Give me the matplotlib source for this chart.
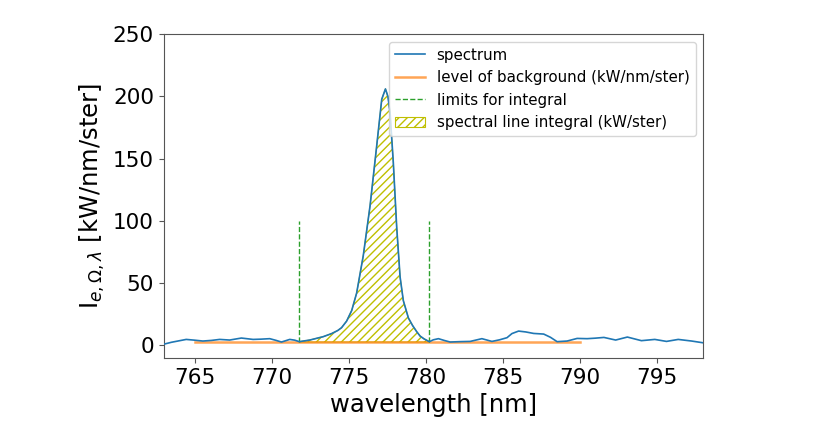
import numpy as np
import matplotlib
matplotlib.use('Agg')
import matplotlib.pyplot as plt

# spectrum (nm, kW/nm/ster)
wavelength = [762.7, 763.5, 764.46, 765.0, 765.54, 766.1, 766.63, 767.28, 768.04,
              768.8, 769.3, 769.88, 770.3, 770.64, 771.18, 771.5, 771.8, 772.48,
              773.35, 773.9, 774.3, 774.54, 774.87, 775.2, 775.52, 775.95, 776.39,
              776.82, 777.15, 777.39, 777.55, 777.69, 777.9, 778.12, 778.34, 778.55,
              778.88, 779.15, 779.42, 779.64, 779.9, 780.24, 780.5, 780.83, 781.2,
              781.59, 782.2, 782.89, 783.65, 784.3, 784.8, 785.28, 785.6, 786.03,
              786.5, 787.01, 787.66, 788.1, 788.53, 789.18, 789.83, 790.48, 791.0,
              791.57, 792.33, 793.09, 794.0, 794.87, 795.63, 796.39, 797.26, 798.0,
              798.5]
intensity = [0.0, 2.5, 4.8, 4.2, 3.5, 4.0, 4.8, 4.3, 5.9,
             4.8, 5.0, 5.4, 4.0, 2.7, 4.8, 4.2, 3.0, 4.3,
             7.0, 9.5, 12.0, 14.2, 19.5, 28.0, 42.0, 72.0, 112.0,
             160.0, 197.7, 206.0, 200.0, 187.0, 147.0, 95.0, 55.0, 36.0,
             22.0, 16.0, 11.0, 7.5, 5.2, 3.0, 4.5, 5.4, 4.0,
             2.7, 3.0, 3.2, 5.4, 3.2, 4.5, 6.2, 9.5, 11.5,
             10.8, 9.6, 9.1, 6.5, 3.0, 3.5, 5.6, 5.4, 5.8,
             6.4, 4.3, 6.7, 3.8, 4.8, 3.2, 4.8, 3.5, 2.1,
             1.5]

background_range = [765.0, 790.0]
background_level = 2.7
integral_limits = [771.8, 780.24]
limit_height = 100.0

wl = np.array(wavelength)
spec = np.array(intensity)

fig = plt.figure(figsize=(8.31, 4.38), dpi=100)
ax = fig.add_axes([0.197, 0.183, 0.649, 0.739])

ax.plot(wl, spec, color='C0', linewidth=1.2, label='spectrum', zorder=3)
ax.plot(background_range, [background_level] * 2, color='C1', alpha=0.7,
        linewidth=1.8, label='level of background (kW/nm/ster)', zorder=2)
for i, xl in enumerate(integral_limits):
    ax.plot([xl, xl], [background_level, limit_height], '--', color='C2',
            linewidth=1.0, label='limits for integral' if i == 0 else None)

mask = (wl >= integral_limits[0]) & (wl <= integral_limits[1])
ax.fill_between(wl, spec, background_level, where=mask, facecolor='none',
                edgecolor='y', hatch='////', linewidth=0.8,
                label='spectral line integral (kW/ster)', zorder=1)

ax.set_xlim(763, 798)
ax.set_ylim(-10, 250)
ax.set_xticks([765, 770, 775, 780, 785, 790, 795])
ax.set_yticks([0, 50, 100, 150, 200, 250])
ax.tick_params(labelsize=15.5, colors='#555555', labelcolor='black')
for s in ax.spines.values():
    s.set_color('#555555')

ax.set_xlabel('wavelength [nm]', fontsize=17.5)
ax.set_ylabel(r'I$_{e,\Omega,\lambda}$ [kW/nm/ster]', fontsize=17.5)
ax.legend(loc='upper right', fontsize=10.8)

fig.savefig('out.png', dpi=100)
